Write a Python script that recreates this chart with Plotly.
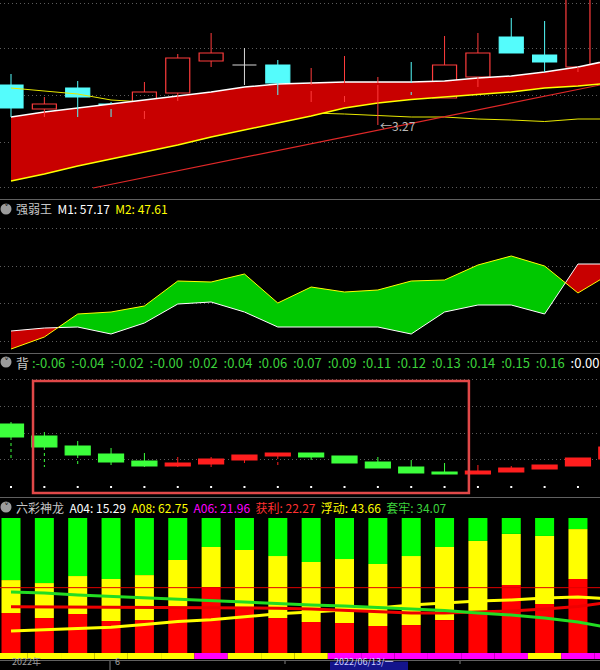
import numpy as np
import plotly.graph_objects as go

W, H = 600, 670

# ---------------- data ----------------
# Panel 1 : price candles
p_open  = [3.430, 3.334, 3.418, 3.354, 3.326, 3.398, 3.526, 3.510, 3.510, 3.406, 3.386, 3.430, 3.438, 3.378, 3.462, 3.622, 3.550, 3.502]
p_close = [3.338, 3.354, 3.382, 3.334, 3.402, 3.538, 3.558, 3.510, 3.438, 3.430, 3.438, 3.438, 3.402, 3.510, 3.558, 3.558, 3.522, 3.818]
p_high  = [3.474, 3.382, 3.446, 3.362, 3.442, 3.554, 3.638, 3.578, 3.530, 3.498, 3.546, 3.462, 3.522, 3.626, 3.638, 3.698, 3.686, 3.850]
p_low   = [3.302, 3.302, 3.302, 3.302, 3.294, 3.366, 3.502, 3.430, 3.390, 3.362, 3.362, 3.270, 3.390, 3.378, 3.422, 3.558, 3.482, 3.482]
band_upper = [3.302, 3.322, 3.338, 3.354, 3.370, 3.386, 3.402, 3.422, 3.434, 3.438, 3.442, 3.442, 3.442, 3.446, 3.458, 3.466, 3.482, 3.502, 3.530]
band_lower = [3.046, 3.074, 3.106, 3.134, 3.162, 3.190, 3.222, 3.250, 3.278, 3.306, 3.338, 3.358, 3.372, 3.382, 3.394, 3.402, 3.418, 3.426, 3.438]
ma_line    = [3.418, 3.406, 3.394, 3.370, 3.362, 3.350, 3.342, 3.334, 3.326, 3.318, 3.314, 3.308, 3.302, 3.302, 3.294, 3.290, 3.284, 3.294, 3.294]
trend_x = [2.46, 17.66]
trend_y = [3.018, 3.430]
low_mark_idx, low_mark_val = 11, 3.27
p1_grid = [3.022, 3.202, 3.390, 3.578, 3.758]

# Panel 2 : 强弱王
m1 = [35.06, 36.05, 36.38, 34.07, 37.70, 43.97, 44.63, 41.33, 36.38, 36.38, 36.38, 36.38, 34.07, 41.33, 43.64, 43.64, 40.67, 57.17, 57.17]
m2 = [29.12, 33.08, 40.67, 41.33, 43.31, 51.56, 51.23, 53.87, 44.30, 49.58, 47.93, 48.59, 51.56, 51.89, 56.84, 59.81, 56.51, 47.61, 54.20]
p2_grid = [31.76, 44.30, 56.51, 69.05]

# Panel 3 : 背
b_open  = [0.63, 0.51, 0.41, 0.33, 0.26, 0.21, 0.23, 0.27, 0.31, 0.34, 0.31, 0.25, 0.20, 0.15, 0.13, 0.15, 0.18, 0.21, 0.28]
b_close = [0.50, 0.40, 0.32, 0.25, 0.21, 0.24, 0.28, 0.32, 0.34, 0.30, 0.24, 0.19, 0.14, 0.13, 0.16, 0.19, 0.22, 0.29, 0.40]
b_high  = [0.65, 0.55, 0.46, 0.39, 0.34, 0.30, 0.30, 0.32, 0.34, 0.34, 0.31, 0.30, 0.27, 0.24, 0.22, 0.21, 0.22, 0.29, 0.40]
b_low   = [0.27, 0.20, 0.20, 0.20, 0.20, 0.20, 0.20, 0.21, 0.22, 0.24, 0.24, 0.19, 0.14, 0.13, 0.13, 0.15, 0.18, 0.21, 0.28]
b_labels = ["-0.06", "-0.04", "-0.02", "-0.00", "0.02", "0.04", "0.06", "0.07", "0.09",
            "0.11", "0.12", "0.13", "0.14", "0.15", "0.16"]
b_last_label = "0.00"
p3_grid = [0.28, 0.54, 0.81, 1.08]
box_x = [0.66, 13.73]
box_y = [-0.06, 1.06]

# Panel 4 : 六彩神龙
profit  = [29.6, 25.9, 28.9, 23.7, 24.4, 33.3, 48.9, 33.3, 25.9, 23.0, 22.2, 20.0, 20.7, 24.4, 31.1, 50.4, 36.3, 54.8]
floating = [24.4, 25.9, 28.1, 31.1, 33.3, 35.6, 29.6, 43.0, 45.9, 44.4, 47.4, 45.9, 51.1, 54.1, 51.9, 37.8, 50.4, 37.0]
trapped = [46.0, 48.2, 43.0, 45.2, 42.3, 31.1, 21.5, 23.7, 28.2, 32.6, 30.4, 34.1, 28.2, 21.5, 17.0, 11.8, 13.3, 8.2]
line_green  = [45.2, 44.4, 43.0, 41.9, 40.7, 40.0, 38.5, 37.4, 36.3, 35.6, 34.8, 33.7, 32.6, 31.5, 29.6, 28.1, 25.9, 23.0, 18.5]
line_red    = [34.3, 34.2, 34.1, 34.1, 33.9, 33.7, 33.6, 33.3, 33.2, 32.6, 31.5, 30.4, 29.6, 29.6, 30.4, 31.1, 32.6, 34.4, 37.8]
line_yellow = [16.3, 17.2, 18.0, 19.0, 21.1, 23.3, 24.7, 27.0, 29.0, 30.4, 31.9, 33.3, 35.6, 37.0, 38.5, 39.3, 40.7, 41.5, 40.0]
level_red = 48.4
strip_state = [0, 0, 0, 0, 0, 0, 1, 0, 0, 0, 1, 1, 1, 1, 1, 1, 0, 1, 1]   # 0 yellow, 1 magenta
strip_depth = 4.44
hdr4 = [("A04", 15.29, "#ffffff"), ("A08", 62.75, "#ffff00"), ("A06", 21.96, "#ff00ff"),
        ("获利", 22.27, "#ff3030"), ("浮动", 43.66, "#ffff00"), ("套牢", 34.07, "#3cd23c")]

# ---------------- helpers ----------------
def py(y):
    return 1 - y / H

def px(x):
    return x / W

FONT = "Noto Sans CJK SC, Noto Sans, DejaVu Sans"
fig = go.Figure()


def seg_xy(xs, a, b):
    X, Y = [], []
    for x, y0, y1 in zip(xs, a, b):
        if y0 == y1:
            continue
        X += [x, x, None]
        Y += [y0, y1, None]
    return X, Y


def add_candles(o, c, h, l, yaxis, up_col, dn_col, width, hollow_up, lower_dash="solid", doji_col=None):
    o, c, h, l = map(np.asarray, (o, c, h, l))
    idx = np.arange(len(o))
    top = np.maximum(o, c)
    bot = np.minimum(o, c)
    for mask, col, hollow in ((c > o, up_col, hollow_up), (c < o, dn_col, False)):
        xs = idx[mask]
        if len(xs) == 0:
            continue
        X, Y = seg_xy(xs, top[mask], h[mask])
        fig.add_trace(go.Scatter(x=X, y=Y, mode="lines", line=dict(color=col, width=1), yaxis=yaxis, hoverinfo="skip"))
        X, Y = seg_xy(xs, bot[mask], l[mask])
        fig.add_trace(go.Scatter(x=X, y=Y, mode="lines", line=dict(color=col, width=1, dash=lower_dash), yaxis=yaxis, hoverinfo="skip"))
        fig.add_trace(go.Bar(x=xs, y=(top - bot)[mask], base=bot[mask], width=width, yaxis=yaxis, hoverinfo="skip",
                             marker=dict(color="rgba(0,0,0,0)" if hollow else col, line=dict(color=col, width=1.2))))
    dj = idx[c == o]
    if len(dj):
        col = doji_col or up_col
        X, Y = seg_xy(dj, l[c == o], h[c == o])
        HX, HY = [], []
        for i in dj:
            HX += [i - width / 2, i + width / 2, None]
            HY += [o[i], o[i], None]
        fig.add_trace(go.Scatter(x=X + HX, y=Y + HY, mode="lines", line=dict(color=col, width=1), yaxis=yaxis, hoverinfo="skip"))


def band_polys(a, b):
    pos_x, pos_y, neg_x, neg_y = [], [], [], []
    for i in range(len(a) - 1):
        x0, x1 = i, i + 1
        a0, a1, b0, b1 = a[i], a[i + 1], b[i], b[i + 1]
        d0, d1 = a0 - b0, a1 - b1
        if d0 * d1 >= 0:
            tx, ty = (pos_x, pos_y) if (d0 + d1) > 0 else (neg_x, neg_y)
            tx += [x0, x1, x1, x0, x0, None]
            ty += [a0, a1, b1, b0, a0, None]
        else:
            t = d0 / (d0 - d1)
            xc = x0 + t * (x1 - x0)
            yc = a0 + t * (a1 - a0)
            tx, ty = (pos_x, pos_y) if d0 > 0 else (neg_x, neg_y)
            tx += [x0, xc, x0, x0, None]
            ty += [a0, yc, b0, a0, None]
            tx, ty = (pos_x, pos_y) if d1 > 0 else (neg_x, neg_y)
            tx += [xc, x1, x1, xc, None]
            ty += [yc, a1, b1, yc, None]
    return pos_x, pos_y, neg_x, neg_y

# ---------------- panel 1 ----------------
xi = list(range(len(band_upper)))
fig.add_trace(go.Scatter(x=xi, y=ma_line, mode="lines", line=dict(color="#e8e800", width=1), yaxis="y", hoverinfo="skip"))
fig.add_trace(go.Scatter(x=trend_x, y=trend_y, mode="lines", line=dict(color="#e02828", width=1.2), yaxis="y", hoverinfo="skip"))
fig.add_trace(go.Scatter(x=xi, y=band_lower, mode="lines", line=dict(color="#ffff00", width=1.5), yaxis="y", hoverinfo="skip"))
fig.add_trace(go.Scatter(x=xi, y=band_upper, mode="lines", line=dict(color="#ffffff", width=1.5), fill="tonexty",
                         fillcolor="#c80000", yaxis="y", hoverinfo="skip"))
add_candles(p_open, p_close, p_high, p_low, "y", "#ff3c3c", "#54fcfc", 0.72, True, doji_col="#d8d8d8")

# ---------------- panel 2 ----------------
gx, gy, rx, ry = band_polys(m2, m1)
fig.add_trace(go.Scatter(x=gx, y=gy, mode="lines", line=dict(width=0), fill="toself", fillcolor="#00c800", yaxis="y2", hoverinfo="skip"))
fig.add_trace(go.Scatter(x=rx, y=ry, mode="lines", line=dict(width=0), fill="toself", fillcolor="#c80000", yaxis="y2", hoverinfo="skip"))
xm = list(range(len(m1)))
fig.add_trace(go.Scatter(x=xm, y=m1, mode="lines", line=dict(color="#ffffff", width=1), yaxis="y2", hoverinfo="skip"))
fig.add_trace(go.Scatter(x=xm, y=m2, mode="lines", line=dict(color="#ffff00", width=1), yaxis="y2", hoverinfo="skip"))

# ---------------- panel 3 ----------------
add_candles(b_open, b_close, b_high, b_low, "y3", "#ff1e1e", "#3cff3c", 0.75, False, lower_dash="dot")
xb = list(range(len(b_open)))
fig.add_trace(go.Scatter(x=xb, y=[0] * len(xb), mode="markers", marker=dict(color="#ffffff", size=2, symbol="square"),
                         yaxis="y3", hoverinfo="skip"))
fig.add_shape(type="rect", xref="x", yref="y3", x0=box_x[0], x1=box_x[1], y0=box_y[0], y1=box_y[1],
              line=dict(color="#e04848", width=2.5))

# ---------------- panel 4 ----------------
x4 = list(range(len(profit)))
pr = np.array(profit); fl = np.array(floating); tr = np.array(trapped)
fig.add_trace(go.Bar(x=x4, y=pr, base=0, width=0.57, marker=dict(color="#ff0000", line=dict(width=0)), yaxis="y4", hoverinfo="skip"))
fig.add_trace(go.Bar(x=x4, y=fl, base=pr, width=0.57, marker=dict(color="#ffff00", line=dict(width=0)), yaxis="y4", hoverinfo="skip"))
fig.add_trace(go.Bar(x=x4, y=tr, base=pr + fl, width=0.57, marker=dict(color="#00ff00", line=dict(width=0)), yaxis="y4", hoverinfo="skip"))
xs_strip = list(range(len(strip_state)))
fig.add_trace(go.Bar(x=xs_strip, y=[strip_depth] * len(xs_strip), base=-strip_depth, width=1.0, yaxis="y4", hoverinfo="skip",
                     marker=dict(color=["#ff00ff" if s else "#ffff00" for s in strip_state], line=dict(width=0))))
xl = list(range(len(line_green)))
fig.add_trace(go.Scatter(x=xl, y=line_yellow, mode="lines", line=dict(color="#ffff00", width=3), yaxis="y4", hoverinfo="skip"))
fig.add_trace(go.Scatter(x=xl, y=line_red, mode="lines", line=dict(color="#ee0000", width=3), yaxis="y4", hoverinfo="skip"))
fig.add_trace(go.Scatter(x=xl, y=line_green, mode="lines", line=dict(color="#22dd22", width=3), yaxis="y4", hoverinfo="skip"))
fig.add_shape(type="line", xref="paper", yref="y4", x0=0, x1=1, y0=level_red, y1=level_red, line=dict(color="#e00000", width=1))

# ---------------- axes ----------------
def yax(top_px, bot_px, rng, grid):
    return dict(domain=[py(bot_px), py(top_px)], range=rng, showgrid=True, gridcolor="#5c5c5c", griddash="1px,3px",
                gridwidth=1, tickvals=grid, showticklabels=False, zeroline=False, showline=False, ticks="", fixedrange=True)

fig.update_layout(
    width=W, height=H, margin=dict(l=0, r=0, t=0, b=0),
    paper_bgcolor="#000000", plot_bgcolor="#000000", showlegend=False, barmode="overlay",
    xaxis=dict(range=[-0.330, 17.661], visible=False, fixedrange=True),
    yaxis=yax(0, 198, [2.978, 3.770], p1_grid),
    yaxis2=yax(200, 352, [28.13, 78.29], p2_grid),
    yaxis3=yax(354, 496, [-0.09, 1.33], p3_grid),
    yaxis4=yax(498, 660, [-5.185, 114.81], []),
    hovermode=False,
)

# separators
for yy in (199.5, 353.5, 497.5, 660.5):
    fig.add_shape(type="line", xref="paper", yref="paper", x0=0, x1=1, y0=py(yy), y1=py(yy), line=dict(color="#606060", width=1))

# low marker
fig.add_annotation(x=low_mark_idx, y=low_mark_val, xref="x", yref="y", text="←" + f"{low_mark_val:.2f}", showarrow=False,
                   xanchor="left", yanchor="middle", xshift=0, font=dict(family=FONT, size=12, color="#b8b8b8"))

# headers
def icon(yc):
    fig.add_shape(type="circle", xref="paper", yref="paper", x0=px(0.5), x1=px(11.5), y0=py(yc + 5.5), y1=py(yc - 5.5),
                  fillcolor="#9c9c9c", line=dict(width=0))
    fig.add_annotation(x=px(6), y=py(yc), xref="paper", yref="paper", text="˅", showarrow=False,
                       font=dict(family="DejaVu Sans", size=10, color="#202020"), xanchor="center", yanchor="middle")

def span(t, c):
    return f'<span style="color:{c}">{t}</span>'

NB = "\u00a0"
def header(yc, html, size=12):
    fig.add_annotation(x=px(14), y=py(yc), xref="paper", yref="paper", text=html, showarrow=False, xanchor="left",
                       yanchor="middle", font=dict(family=FONT, size=size, color="#c8c8c8"))

icon(209)
header(209, span("强弱王", "#c8c8c8") + NB * 2 + span(f"M1:{NB}{m1[-2]:.2f}", "#ffffff") + NB * 2 + span(f"M2:{NB}{m2[-2]:.2f}", "#ffff00"))

icon(362)
h3 = span("背", "#c8c8c8") + NB
for lab in b_labels:
    h3 += span(f":{lab}{NB}{NB}", "#3cd23c")
h3 += span(f":{b_last_label}", "#ffffff")
header(362, h3, size=13)

icon(507)
h4 = span("六彩神龙", "#c8c8c8")
for name, val, col in hdr4:
    h4 += NB * 2 + span(f"{name}:{NB}{val:.2f}", col)
header(507, h4)

# bottom date axis
fig.add_annotation(x=px(10), y=py(670), xref="paper", yref="paper", text="2022年", showarrow=False, xanchor="left",
                   yanchor="bottom", font=dict(family=FONT, size=9, color="#a0a0a0"))
fig.add_shape(type="line", xref="paper", yref="paper", x0=px(110), x1=px(110), y0=py(661), y1=py(670), line=dict(color="#808080", width=1))
for tx in (285, 460):
    fig.add_shape(type="line", xref="paper", yref="paper", x0=px(tx), x1=px(tx), y0=py(661), y1=py(664), line=dict(color="#808080", width=1))
fig.add_annotation(x=px(113), y=py(670), xref="paper", yref="paper", text="6", showarrow=False, xanchor="left",
                   yanchor="bottom", font=dict(family=FONT, size=9, color="#a0a0a0"))
fig.add_shape(type="rect", xref="paper", yref="paper", x0=px(330), x1=px(408), y0=py(670), y1=py(661.5),
              fillcolor="#14148c", line=dict(width=0))
fig.add_annotation(x=px(332), y=py(670), xref="paper", yref="paper", text="2022/06/13/一", showarrow=False, xanchor="left",
                   yanchor="bottom", font=dict(family=FONT, size=9, color="#d0d0ff"))

fig.write_html("out.html", config={"displayModeBar": False, "staticPlot": False},
               post_script="document.body.style.margin='0px';")
